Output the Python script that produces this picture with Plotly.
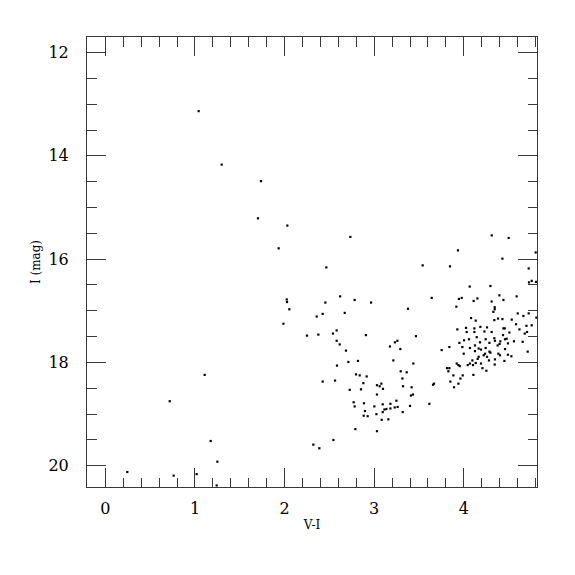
import plotly.graph_objects as go

# V-I colour and I magnitude
vi = [
 1.041, 1.298, 1.737, 1.703, 1.934, 1.108, 0.718, 1.175, 1.250, 0.245, 0.762, 1.019, 1.242,
 2.031, 2.734, 2.466, 2.024, 2.027, 2.053, 2.620, 2.782, 2.965, 2.455, 2.425, 2.358, 2.671,
 3.377, 1.987, 2.250, 2.377, 2.540, 2.581, 2.908, 2.581, 2.615, 2.685, 3.466, 3.176, 3.232,
 3.259, 3.292, 2.585, 2.712, 2.819, 3.214, 3.437,
 2.425, 2.563, 2.797, 2.838, 2.916, 2.879, 2.727, 2.853, 3.296, 3.363, 3.315, 3.322, 3.418,
 3.410, 3.433, 3.400, 3.031, 3.061, 3.080, 3.098, 3.031, 2.771, 2.782, 2.886, 2.897, 2.883,
 2.927, 3.002, 3.025, 3.095, 3.095, 3.114, 3.136, 3.181, 3.181, 3.229, 3.248, 3.262, 3.318,
 3.084, 3.158, 2.790, 3.031, 2.545, 2.321, 2.388,
 4.312, 4.501, 3.935, 4.802, 3.541, 3.846, 4.431, 4.724, 4.728, 4.758, 4.066, 4.297, 3.642,
 3.946, 3.977, 4.152, 4.110, 4.311, 4.397, 4.442, 4.590, 3.917, 4.345, 4.345, 4.330, 4.602,
 4.724, 4.665, 4.081, 4.133, 4.341, 4.382, 4.431, 4.535, 4.583, 4.699, 4.758, 4.621, 4.706,
 4.680, 3.928, 4.025, 4.032, 4.118, 4.118, 4.185, 4.259, 4.230, 4.311, 4.442, 4.457, 4.509,
 4.438, 4.144, 4.003, 4.058, 4.244, 4.341, 4.348, 4.408, 4.460, 4.478, 4.493, 4.560, 4.657,
 3.951, 4.181, 4.286, 4.125, 4.378, 4.400, 3.984, 3.753, 3.839, 4.069, 4.166, 4.192, 4.244,
 4.286, 4.297, 4.460, 4.713, 3.999, 4.125, 4.237, 4.386, 4.404, 4.493, 4.531, 4.166, 4.155,
 4.222, 4.259, 4.096, 4.281, 4.348, 4.453, 3.921, 3.940, 4.044, 4.069, 4.103, 4.133, 4.192,
 4.345, 3.813, 3.839, 4.208,
 3.616, 3.657, 3.668, 3.828, 3.884, 3.850, 3.891, 3.940, 3.962, 3.988, 4.107, 4.252, 3.955,
 4.806, 4.810,
]
imag = [
 13.135, 14.17, 14.49, 15.21, 15.79, 18.24, 18.75, 19.52, 19.92, 20.12, 20.19, 20.16, 20.38,
 15.35, 15.57, 16.16, 16.78, 16.83, 16.97, 16.72, 16.79, 16.84, 16.84, 17.06, 17.11, 17.04,
 16.96, 17.25, 17.48, 17.46, 17.44, 17.38, 17.47, 17.58, 17.65, 17.77, 17.49, 17.69, 17.61,
 17.58, 17.74, 18.06, 17.99, 17.97, 17.96, 18.02,
 18.37, 18.35, 18.23, 18.25, 18.27, 18.40, 18.53, 18.52, 18.17, 18.19, 18.31, 18.46, 18.48,
 18.64, 18.62, 18.84, 18.44, 18.46, 18.41, 18.51, 18.62, 18.77, 18.85, 18.79, 18.94, 19.03,
 19.04, 18.85, 19.00, 18.81, 18.96, 18.91, 18.90, 18.80, 18.89, 18.87, 18.74, 18.86, 18.96,
 19.11, 19.10, 19.29, 19.33, 19.50, 19.59, 19.66,
 15.54, 15.59, 15.83, 15.87, 16.12, 16.14, 15.99, 16.18, 16.45, 16.42, 16.53, 16.52, 16.75,
 16.77, 16.75, 16.76, 16.81, 16.82, 16.70, 16.79, 16.72, 16.92, 16.93, 16.97, 17.02, 17.05,
 17.05, 17.10, 17.14, 17.19, 17.18, 17.15, 17.16, 17.17, 17.26, 17.29, 17.28, 17.36, 17.41,
 17.44, 17.36, 17.33, 17.41, 17.34, 17.41, 17.31, 17.32, 17.40, 17.41, 17.34, 17.34, 17.42,
 17.47, 17.51, 17.57, 17.55, 17.55, 17.53, 17.58, 17.59, 17.55, 17.54, 17.63, 17.59, 17.60,
 17.62, 17.61, 17.62, 17.67, 17.67, 17.64, 17.70, 17.76, 17.70, 17.72, 17.73, 17.75, 17.72,
 17.79, 17.81, 17.74, 17.79, 17.83, 17.78, 17.83, 17.83, 17.86, 17.85, 17.88, 17.89, 17.93,
 17.86, 17.89, 17.96, 17.96, 17.94, 17.97, 18.02, 18.05, 18.05, 18.02, 18.05, 18.01, 18.02,
 18.04, 18.11, 18.11, 18.11,
 18.80, 18.43, 18.41, 18.17, 18.25, 18.37, 18.48, 18.41, 18.31, 18.25, 18.24, 18.16, 18.07,
 16.44, 17.13,
]

x_range = [-0.205, 4.817]
y_range = [20.41, 11.70]
x_ticks = [0, 1, 2, 3, 4]
y_ticks = [12, 14, 16, 18, 20]

fig = go.Figure(go.Scatter(
    x=vi, y=imag, mode="markers",
    marker=dict(symbol="square", size=2.2, color="black", line=dict(width=0)),
    showlegend=False,
))

axis_common = dict(
    showgrid=False, zeroline=False, showline=True, linecolor="#3a3a3a", linewidth=1,
    mirror="ticks", ticks="inside", ticklen=19, tickwidth=1, tickcolor="#3a3a3a",
    tickfont=dict(family="DejaVu Serif", size=16, color="black"),
)

fig.update_xaxes(
    range=x_range, tickvals=x_ticks, ticktext=[str(v) for v in x_ticks],
    minor=dict(dtick=0.2, tick0=0, ticks="inside", ticklen=9.5, tickwidth=1, tickcolor="#3a3a3a"),
    title=dict(text="V-I", font=dict(family="DejaVu Serif", size=12, color="black"), standoff=3),
    ticklabelstandoff=7,
    **axis_common,
)
fig.update_yaxes(
    range=y_range, tickvals=y_ticks, ticktext=[str(v) for v in y_ticks],
    minor=dict(dtick=0.5, tick0=0, ticks="inside", ticklen=9.5, tickwidth=1, tickcolor="#3a3a3a"),
    title=dict(text="I (mag)", font=dict(family="DejaVu Serif", size=12, color="black"), standoff=5),
    ticklabelstandoff=14,
    **axis_common,
)

fig.update_layout(
    width=575, height=575,
    margin=dict(l=79, r=46, t=29, b=96),
    plot_bgcolor="white", paper_bgcolor="white",
)

fig.write_html("out.html")
